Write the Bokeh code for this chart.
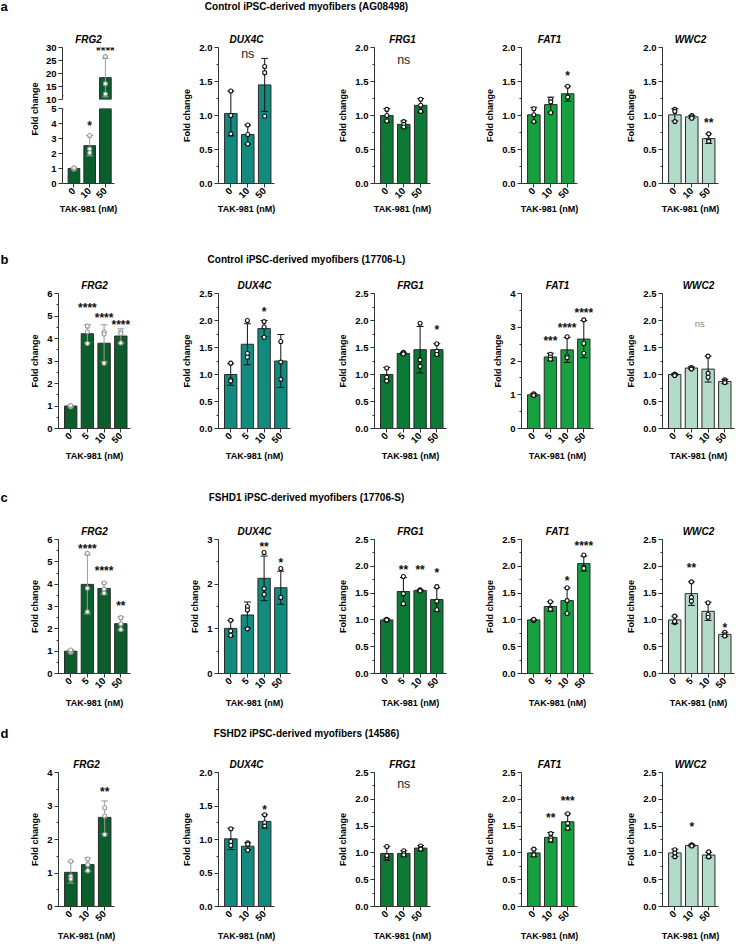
import math
from bokeh.plotting import figure
from bokeh.layouts import row, column
from bokeh.models import (Range1d, Label, FixedTicker, SingleIntervalTicker,
                          ColumnDataSource, Whisker, TeeHead, PrintfTickFormatter)
from bokeh.embed import file_html
from bokeh.resources import INLINE

FONT = "Liberation Sans"

# ---------------- data ----------------
GENES = ["FRG2", "DUX4C", "FRG1", "FAT1", "WWC2"]
DOSES_AD = ["0", "10", "50"]
DOSES_BC = ["0", "5", "10", "50"]
ROW_LETTERS = ["a", "b", "c", "d"]
ROW_TITLES = ["Control iPSC-derived myofibers (AG08498)",
              "Control iPSC-derived myofibers (17706-L)",
              "FSHD1 iPSC-derived myofibers (17706-S)",
              "FSHD2 iPSC-derived myofibers (14586)"]
XLABEL = "TAK-981 (nM)"
YLABEL = "Fold change"

# row a
A_FRG2_MEAN = [1.00, 2.52, 18.4]
A_FRG2_SD = [0.05, 0.68, 7.4]
A_FRG2_PTS = [[0.96, 1.00, 1.04], [3.20, 2.30, 2.05], [26.5, 16.1, 12.1]]
A_FRG2_SIG = [(1, "*", 4.05), (2, "****", 29.8)]
A_DUX4C_MEAN = [1.03, 0.72, 1.45]
A_DUX4C_SD = [0.33, 0.14, 0.39]
A_DUX4C_PTS = [[1.36, 1.00, 0.73], [0.86, 0.72, 0.58], [1.72, 1.63, 0.99]]
A_DUX4C_SIG = [(1, "ns", 1.90)]
A_FRG1_MEAN = [1.00, 0.87, 1.15]
A_FRG1_SD = [0.10, 0.05, 0.10]
A_FRG1_PTS = [[1.09, 1.00, 0.92], [0.91, 0.87, 0.83], [1.24, 1.15, 1.06]]
A_FRG1_SIG = [(1, "ns", 1.81)]
A_FAT1_MEAN = [1.01, 1.16, 1.32]
A_FAT1_SD = [0.11, 0.11, 0.11]
A_FAT1_PTS = [[1.10, 1.01, 0.91], [1.24, 1.20, 1.04], [1.43, 1.27, 1.27]]
A_FAT1_SIG = [(2, "*", 1.63)]
A_WWC2_MEAN = [1.01, 0.98, 0.66]
A_WWC2_SD = [0.09, 0.02, 0.07]
A_WWC2_PTS = [[1.09, 1.06, 0.91], [1.00, 0.98, 0.96], [0.73, 0.64, 0.62]]
A_WWC2_SIG = [(2, "**", 0.93)]

# row b
B_FRG2_MEAN = [1.00, 4.21, 3.79, 4.11]
B_FRG2_SD = [0.03, 0.40, 0.82, 0.32]
B_FRG2_PTS = [[0.97, 1.00, 1.02], [4.55, 4.30, 3.78], [4.29, 4.20, 2.90], [4.30, 4.22, 3.80]]
B_FRG2_SIG = [(1, "****", 5.50), (2, "****", 5.06), (3, "****", 4.73)]
B_DUX4C_MEAN = [1.00, 1.56, 1.85, 1.25]
B_DUX4C_SD = [0.20, 0.38, 0.15, 0.49]
B_DUX4C_PTS = [[1.21, 0.90, 0.88], [2.00, 1.39, 1.32], [1.98, 1.88, 1.69], [1.61, 1.23, 0.91]]
B_DUX4C_SIG = [(2, "*", 2.22)]
B_FRG1_MEAN = [1.00, 1.39, 1.46, 1.46]
B_FRG1_SD = [0.13, 0.02, 0.43, 0.11]
B_FRG1_PTS = [[1.12, 0.95, 0.88], [1.41, 1.40, 1.38], [1.95, 1.27, 1.15], [1.57, 1.43, 1.37]]
B_FRG1_SIG = [(3, "*", 1.88)]
B_FAT1_MEAN = [1.00, 2.12, 2.33, 2.65]
B_FAT1_SD = [0.04, 0.11, 0.37, 0.55]
B_FAT1_PTS = [[1.03, 1.00, 0.98], [2.20, 2.12, 2.05], [2.72, 2.15, 2.10], [3.22, 2.52, 2.23]]
B_FAT1_SIG = [(1, "***", 2.67), (2, "****", 3.07), (3, "****", 3.51)]
B_WWC2_MEAN = [1.00, 1.12, 1.10, 0.87]
B_WWC2_SD = [0.02, 0.02, 0.24, 0.04]
B_WWC2_PTS = [[1.01, 1.00, 0.98], [1.13, 1.12, 1.10], [1.34, 1.02, 0.95], [0.90, 0.87, 0.85]]
B_WWC2_SIG = [(1.5, "ns", 1.94)]

# row c
C_FRG2_MEAN = [1.00, 3.99, 3.81, 2.23]
C_FRG2_SD = [0.07, 1.32, 0.26, 0.30]
C_FRG2_PTS = [[0.95, 1.00, 1.05], [5.38, 3.82, 2.76], [4.05, 3.77, 3.60], [2.50, 2.22, 1.97]]
C_FRG2_SIG = [(1, "****", 5.73), (2, "****", 4.72), (3, "**", 3.15)]
C_DUX4C_MEAN = [1.01, 1.31, 2.13, 1.92]
C_DUX4C_SD = [0.18, 0.29, 0.50, 0.37]
C_DUX4C_PTS = [[1.19, 0.95, 0.85], [1.50, 1.42, 1.00], [2.71, 1.90, 1.77], [2.35, 1.70, 1.70]]
C_DUX4C_SIG = [(2, "**", 2.90), (3, "*", 2.54)]
C_FRG1_MEAN = [1.00, 1.53, 1.55, 1.38]
C_FRG1_SD = [0.02, 0.26, 0.01, 0.22]
C_FRG1_PTS = [[1.01, 0.99, 1.00], [1.81, 1.49, 1.30], [1.56, 1.55, 1.54], [1.62, 1.35, 1.19]]
C_FRG1_SIG = [(1, "**", 1.98), (2, "**", 1.98), (3, "*", 1.93)]
C_FAT1_MEAN = [1.00, 1.25, 1.36, 2.05]
C_FAT1_SD = [0.01, 0.09, 0.24, 0.14]
C_FAT1_PTS = [[1.00, 0.99, 1.01], [1.34, 1.22, 1.20], [1.60, 1.36, 1.12], [2.21, 1.98, 1.96]]
C_FAT1_SIG = [(2, "*", 1.78), (3, "****", 2.44)]
C_WWC2_MEAN = [1.00, 1.49, 1.16, 0.73]
C_WWC2_SD = [0.07, 0.22, 0.17, 0.04]
C_WWC2_PTS = [[1.07, 0.95, 0.97], [1.71, 1.42, 1.35], [1.32, 1.10, 1.05], [0.77, 0.72, 0.70]]
C_WWC2_SIG = [(1, "**", 2.03), (3, "*", 0.91)]

# row d
D_FRG2_MEAN = [1.02, 1.25, 2.66]
D_FRG2_SD = [0.32, 0.20, 0.49]
D_FRG2_PTS = [[1.35, 0.90, 0.82], [1.42, 1.25, 1.07], [2.95, 2.70, 2.15]]
D_FRG2_SIG = [(2, "**", 3.50)]
D_DUX4C_MEAN = [1.01, 0.90, 1.27]
D_DUX4C_SD = [0.16, 0.05, 0.10]
D_DUX4C_PTS = [[1.16, 0.97, 0.91], [0.95, 0.93, 0.84], [1.37, 1.25, 1.20]]
D_DUX4C_SIG = [(2, "*", 1.48)]
D_FRG1_MEAN = [0.99, 0.99, 1.09]
D_FRG1_SD = [0.13, 0.05, 0.05]
D_FRG1_PTS = [[1.12, 0.92, 0.95], [1.04, 0.99, 0.96], [1.13, 1.08, 1.07]]
D_FRG1_SIG = [(1, "ns", 2.28)]
D_FAT1_MEAN = [1.00, 1.29, 1.58]
D_FAT1_SD = [0.07, 0.09, 0.15]
D_FAT1_PTS = [[1.07, 0.98, 0.96], [1.36, 1.28, 1.24], [1.73, 1.55, 1.46]]
D_FAT1_SIG = [(1, "**", 1.70), (2, "***", 2.03)]
D_WWC2_MEAN = [1.00, 1.14, 0.96]
D_WWC2_SD = [0.07, 0.02, 0.05]
D_WWC2_PTS = [[1.06, 0.93, 1.00], [1.15, 1.14, 1.13], [1.02, 0.93, 0.93]]
D_WWC2_SIG = [(1, "*", 1.53)]

# y-axis extents (max, major step) per row, genes in GENES order
A_YAXIS = [None, (2.0, 0.5), (2.0, 0.5), (2.0, 0.5), (2.0, 0.5)]
A_FRG2_LOWER = (0, 5, 1)
A_FRG2_UPPER = (10, 30, 5)
B_YAXIS = [(6, 1), (2.5, 0.5), (2.5, 0.5), (4, 1), (2.5, 0.5)]
C_YAXIS = [(6, 1), (3, 1), (2.5, 0.5), (2.5, 0.5), (2.5, 0.5)]
D_YAXIS = [(4, 1), (2.0, 0.5), (2.5, 0.5), (2.5, 0.5), (2.5, 0.5)]

# ---------------- style ----------------
BAR_COLORS = ["#0b5e2b", "#128a7d", "#0c7a35", "#16a040", "#b2dbc9"]
ERR_COLORS = ["#9a9a9a", "#111111", "#111111", "#111111", "#111111"]
EDGE = "#2a2a2a"
AXC = "#333333"
COL_X = [0, 150, 310, 462, 610, 736]
AXIS_X = [58, 218, 374, 521, 662]
SLOT = 16.8
LPAD, RPAD = 0.73, 0.58
BAR_W = 0.74


def style_axes(p, fmt):
    for ax in p.axis:
        ax.axis_line_color = AXC
        ax.axis_line_width = 1
        ax.major_tick_line_color = AXC
        ax.minor_tick_line_color = AXC
        ax.major_tick_in = 0
        ax.major_tick_out = 4
        ax.minor_tick_in = 0
        ax.minor_tick_out = 2
        ax.major_label_text_font = FONT
        ax.major_label_text_font_style = "bold"
        ax.major_label_text_font_size = "9.5px"
        ax.major_label_text_color = "black"
        ax.major_label_standoff = 2
        ax.axis_label_text_font = FONT
        ax.axis_label_text_font_style = "bold"
        ax.axis_label_text_font_size = "9px"
        ax.axis_label_text_color = "black"
    for ax in p.yaxis:
        ax.formatter = PrintfTickFormatter(format=fmt)


def style_title(p):
    p.title.text_font = FONT
    p.title.text_font_style = "bold italic"
    p.title.text_font_size = "10px"
    p.title.text_color = "black"
    p.title.align = "center"
    p.title.standoff = 6


def draw(p, g, mean, sd, pts, sig, lo=None, hi=None, faint=False):
    n = len(mean)
    keep = [i for i in range(n) if (lo is None or mean[i] > lo)]
    bottoms = [lo if lo is not None else 0 for _ in keep]
    tops = [min(mean[i], hi) if hi is not None else mean[i] for i in keep]
    p.vbar(x=keep, bottom=bottoms, top=tops, width=BAR_W, fill_color=BAR_COLORS[g],
           line_color=EDGE, line_width=1)
    ek = [i for i in keep if (hi is None or mean[i] <= hi)]
    src = ColumnDataSource(dict(x=ek, lower=[mean[i] - sd[i] for i in ek],
                                upper=[mean[i] + sd[i] for i in ek]))
    ec = ERR_COLORS[g]
    wk = Whisker(source=src, base="x", lower="lower", upper="upper", line_color=ec,
                 line_width=1, level="annotation",
                 upper_head=TeeHead(size=7, line_color=ec, line_width=1),
                 lower_head=TeeHead(size=7, line_color=ec, line_width=1))
    p.add_layout(wk)
    px, py = [], []
    for i, grp in enumerate(pts):
        for v in grp:
            if (lo is None or v >= lo) and (hi is None or v <= hi):
                px.append(i)
                py.append(v)
    r = p.scatter(px, py, marker="circle", size=4, fill_color="white",
                  line_color=ec, line_width=1.1)
    r.level = "overlay"
    for (xi, t, yi) in sig:
        if (lo is not None and yi < lo) or (hi is not None and yi > hi):
            continue
        if t == "ns":
            lab = Label(x=xi, y=yi, text=t, text_align="center", text_baseline="middle",
                        text_font=FONT, text_font_style="normal",
                        text_font_size="9.5px" if faint else "12.5px",
                        text_color="#888888" if faint else "#222222")
        else:
            lab = Label(x=xi, y=yi, text=t, text_align="center", text_baseline="middle",
                        text_font=FONT, text_font_style="bold", text_font_size="12px",
                        text_color="#111111", y_offset=-3)
        p.add_layout(lab)


def set_xaxis(p, doses, standoff):
    n = len(doses)
    p.xaxis.ticker = FixedTicker(ticks=list(range(n)))
    p.xaxis.major_label_overrides = {i: d for i, d in enumerate(doses)}
    p.xaxis.major_label_orientation = math.pi / 4
    p.xaxis.major_label_standoff = 2
    p.xaxis.axis_label = XLABEL
    p.xaxis.axis_label_standoff = standoff
    p.xaxis.minor_tick_out = 0


def panel(g, col, doses, mean, sd, pts, sig, yax, geom, faint=False):
    height, mbt, fh, xst = geom
    n = len(doses)
    width = COL_X[col + 1] - COL_X[col]
    mbl = AXIS_X[col] - COL_X[col]
    fw = round((n - 1 + LPAD + RPAD) * SLOT)
    p = figure(width=width, height=height, output_backend="svg", toolbar_location=None,
               x_range=Range1d(-LPAD, n - 1 + RPAD), y_range=Range1d(0, yax[0]),
               min_border_left=mbl, min_border_right=width - mbl - fw,
               min_border_top=mbt, min_border_bottom=height - mbt - fh,
               outline_line_color=None, title=GENES[g])
    p.grid.visible = False
    style_title(p)
    p.yaxis.ticker = SingleIntervalTicker(interval=yax[1], num_minor_ticks=2)
    p.yaxis.axis_label = YLABEL
    p.yaxis.axis_label_standoff = 4
    style_axes(p, "%.1f" if yax[1] < 1 else "%d")
    set_xaxis(p, doses, xst)
    draw(p, g, mean, sd, pts, sig, faint=faint)
    return p


def blank(w, h):
    p = figure(width=w, height=h, x_range=Range1d(0, w), y_range=Range1d(0, h),
               min_border=0, toolbar_location=None, output_backend="svg",
               x_axis_location=None, y_axis_location=None, outline_line_color=None)
    p.grid.visible = False
    return p


def header(i, h, cy, tx):
    p = blank(736, h)
    p.add_layout(Label(x=0, y=h - cy, text=ROW_LETTERS[i], text_font=FONT,
                       text_font_style="bold", text_font_size="13px",
                       text_baseline="middle", text_align="left", text_color="black"))
    p.add_layout(Label(x=tx, y=h - cy, text=ROW_TITLES[i], text_font=FONT,
                       text_font_style="bold", text_font_size="10px",
                       text_baseline="middle", text_align="center", text_color="black"))
    return p


def break_mark(p, x, y, dy):
    p.add_layout(Label(x=x, y=y, text="/", text_align="center", text_baseline="middle",
                       text_font=FONT, text_font_size="7px", text_color=AXC, y_offset=dy))


def broken_frg2(geom):
    height, mbt, fh, xst = geom
    lw = 42
    width = COL_X[1] - COL_X[0] - lw
    mbl = AXIS_X[0] - COL_X[0] - lw
    fw = round((2 + LPAD + RPAD) * SLOT)
    lab = blank(lw, height)
    lab.add_layout(Label(x=34, y=height - 88.5, text=YLABEL, angle=math.pi / 2,
                         text_font=FONT, text_font_style="bold", text_font_size="9px",
                         text_align="center", text_baseline="middle", text_color="black"))
    up_h, up_fh = 83, 52
    lo_h = height - up_h
    lo_top, lo_fh = 5, 75
    ulo, uhi, ust = A_FRG2_UPPER
    llo, lhi, lst = A_FRG2_LOWER
    up = figure(width=width, height=up_h, output_backend="svg", toolbar_location=None,
                x_range=Range1d(-LPAD, 2 + RPAD), y_range=Range1d(ulo, uhi),
                min_border_left=mbl, min_border_right=width - mbl - fw,
                min_border_top=mbt, min_border_bottom=up_h - mbt - up_fh,
                outline_line_color=None, title=GENES[0], x_axis_location=None)
    up.grid.visible = False
    style_title(up)
    up.yaxis.ticker = SingleIntervalTicker(interval=ust, num_minor_ticks=0)
    style_axes(up, "%d")
    draw(up, 0, A_FRG2_MEAN, A_FRG2_SD, A_FRG2_PTS, A_FRG2_SIG, lo=ulo)
    break_mark(up, -LPAD, ulo, 2)
    lo = figure(width=width, height=lo_h, output_backend="svg", toolbar_location=None,
                x_range=Range1d(-LPAD, 2 + RPAD), y_range=Range1d(llo, lhi),
                min_border_left=mbl, min_border_right=width - mbl - fw,
                min_border_top=lo_top, min_border_bottom=lo_h - lo_top - lo_fh,
                outline_line_color=None)
    lo.grid.visible = False
    lo.yaxis.ticker = SingleIntervalTicker(interval=lst, num_minor_ticks=0)
    style_axes(lo, "%d")
    set_xaxis(lo, DOSES_AD, xst)
    draw(lo, 0, A_FRG2_MEAN, A_FRG2_SD, A_FRG2_PTS, A_FRG2_SIG, hi=lhi)
    break_mark(lo, -LPAD, lhi, -2)
    return row(lab, column(up, lo))


# geometry per row: (panel height, top border, frame height, xlabel standoff)
GEOM = [(220, 27, 136, 0), (218, 25, 135, 2), (206, 27, 134, 4), (200, 28, 136, 4)]
HEAD = [(20, 5.5), (28, 19), (26, 11), (26, 15)]
TITLE_X = 306

ROWS = [
    (DOSES_AD, [A_FRG2_MEAN, A_DUX4C_MEAN, A_FRG1_MEAN, A_FAT1_MEAN, A_WWC2_MEAN],
     [A_FRG2_SD, A_DUX4C_SD, A_FRG1_SD, A_FAT1_SD, A_WWC2_SD],
     [A_FRG2_PTS, A_DUX4C_PTS, A_FRG1_PTS, A_FAT1_PTS, A_WWC2_PTS],
     [A_FRG2_SIG, A_DUX4C_SIG, A_FRG1_SIG, A_FAT1_SIG, A_WWC2_SIG], A_YAXIS),
    (DOSES_BC, [B_FRG2_MEAN, B_DUX4C_MEAN, B_FRG1_MEAN, B_FAT1_MEAN, B_WWC2_MEAN],
     [B_FRG2_SD, B_DUX4C_SD, B_FRG1_SD, B_FAT1_SD, B_WWC2_SD],
     [B_FRG2_PTS, B_DUX4C_PTS, B_FRG1_PTS, B_FAT1_PTS, B_WWC2_PTS],
     [B_FRG2_SIG, B_DUX4C_SIG, B_FRG1_SIG, B_FAT1_SIG, B_WWC2_SIG], B_YAXIS),
    (DOSES_BC, [C_FRG2_MEAN, C_DUX4C_MEAN, C_FRG1_MEAN, C_FAT1_MEAN, C_WWC2_MEAN],
     [C_FRG2_SD, C_DUX4C_SD, C_FRG1_SD, C_FAT1_SD, C_WWC2_SD],
     [C_FRG2_PTS, C_DUX4C_PTS, C_FRG1_PTS, C_FAT1_PTS, C_WWC2_PTS],
     [C_FRG2_SIG, C_DUX4C_SIG, C_FRG1_SIG, C_FAT1_SIG, C_WWC2_SIG], C_YAXIS),
    (DOSES_AD, [D_FRG2_MEAN, D_DUX4C_MEAN, D_FRG1_MEAN, D_FAT1_MEAN, D_WWC2_MEAN],
     [D_FRG2_SD, D_DUX4C_SD, D_FRG1_SD, D_FAT1_SD, D_WWC2_SD],
     [D_FRG2_PTS, D_DUX4C_PTS, D_FRG1_PTS, D_FAT1_PTS, D_WWC2_PTS],
     [D_FRG2_SIG, D_DUX4C_SIG, D_FRG1_SIG, D_FAT1_SIG, D_WWC2_SIG], D_YAXIS),
]

blocks = []
for ri, (doses, means, sds, ptss, sigs, yaxes) in enumerate(ROWS):
    hh, cy = HEAD[ri]
    blocks.append(header(ri, hh, cy, TITLE_X))
    figs = []
    for g in range(5):
        if ri == 0 and g == 0:
            figs.append(broken_frg2(GEOM[ri]))
        else:
            figs.append(panel(g, g, doses, means[g], sds[g], ptss[g], sigs[g], yaxes[g],
                              GEOM[ri], faint=(ri == 1 and g == 4)))
    blocks.append(row(*figs))

layout = column(*blocks)
open("out.html", "w").write(file_html(layout, INLINE))
